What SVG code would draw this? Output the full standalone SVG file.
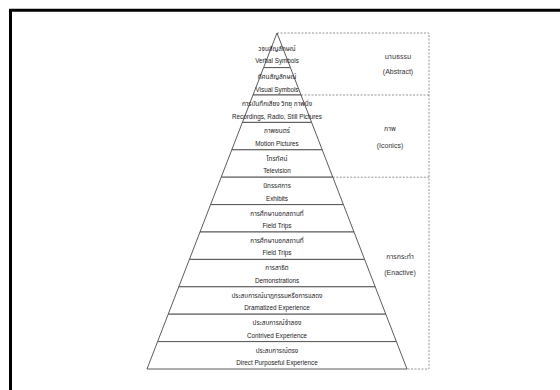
<svg xmlns="http://www.w3.org/2000/svg" width="560" height="390" viewBox="0 0 560 390">
<style>
.band{fill:#fff;stroke:#4a4a4a;stroke-width:0.9}
.th{font-family:"Noto Sans Thai","Tahoma","DejaVu Sans","Liberation Sans",sans-serif;font-size:6.4px;fill:#222;text-anchor:middle}
.en{font-family:"Liberation Sans",Arial,sans-serif;font-size:6.3px;fill:#222;text-anchor:middle}
.lth{font-family:"Noto Sans Thai","Tahoma","DejaVu Sans","Liberation Sans",sans-serif;font-size:7px;fill:#333;text-anchor:middle}
.len{font-family:"Liberation Sans",Arial,sans-serif;font-size:7px;fill:#333;text-anchor:middle}
.dash{fill:none;stroke:#888;stroke-width:0.9;stroke-dasharray:2 1.5}
</style>
<rect width="560" height="390" fill="#fff"/>
<path d="M10.5,390 V10.3 H560" fill="none" stroke="#000" stroke-width="3"/>
<g id="connectors">
<path class="dash" d="M277,33 H429 V369 H407"/>
<path class="dash" d="M301,95 H429"/>
<path class="dash" d="M332.8,177.2 H429"/>
</g>
<g id="verbal"><polygon class="band" points="277,33 290.4,67.6 263.6,67.6"/>
<text class="th" x="277" y="50.5">วจนสัญลักษณ์</text><text class="en" x="277" y="63.3">Verbal Symbols</text></g>
<g id="visual"><polygon class="band" points="263.6,67.6 290.4,67.6 301,95 253,95"/>
<text class="th" x="277" y="79">ทัศนสัญลักษณ์</text><text class="en" x="277" y="91.5">Visual Symbols</text></g>
<g id="recordings"><polygon class="band" points="253,95 301,95 311.6,122.4 242.4,122.4"/>
<text class="th" x="277" y="106">การบันทึกเสียง วิทยุ ภาพนิ่ง</text><text class="en" x="277" y="118.6">Recordings, Radio, Still Pictures</text></g>
<g id="motion"><polygon class="band" points="242.4,122.4 311.6,122.4 322.2,149.8 231.8,149.8"/>
<text class="th" x="277" y="133.4">ภาพยนตร์</text><text class="en" x="277" y="145.7">Motion Pictures</text></g>
<g id="television"><polygon class="band" points="231.8,149.8 322.2,149.8 332.8,177.2 221.2,177.2"/>
<text class="th" x="277" y="160.8">โทรทัศน์</text><text class="en" x="277" y="173.1">Television</text></g>
<g id="exhibits"><polygon class="band" points="221.2,177.2 332.8,177.2 343.4,204.6 210.6,204.6"/>
<text class="th" x="277" y="188.2">นิทรรศการ</text><text class="en" x="277" y="200.5">Exhibits</text></g>
<g id="fieldtrips1"><polygon class="band" points="210.6,204.6 343.4,204.6 354,232 200,232"/>
<text class="th" x="277" y="215.6">การศึกษานอกสถานที่</text><text class="en" x="277" y="227.9">Field Trips</text></g>
<g id="fieldtrips2"><polygon class="band" points="200,232 354,232 364.6,259.4 189.4,259.4"/>
<text class="th" x="277" y="243">การศึกษานอกสถานที่</text><text class="en" x="277" y="255.3">Field Trips</text></g>
<g id="demonstrations"><polygon class="band" points="189.4,259.4 364.6,259.4 375.2,286.8 178.8,286.8"/>
<text class="th" x="277" y="270.4">การสาธิต</text><text class="en" x="277" y="282.7">Demonstrations</text></g>
<g id="dramatized"><polygon class="band" points="178.8,286.8 375.2,286.8 385.8,314.2 168.2,314.2"/>
<text class="th" x="277" y="297.8">ประสบการณ์นาฏกรรมหรือการแสดง</text><text class="en" x="277" y="310.1">Dramatized Experience</text></g>
<g id="contrived"><polygon class="band" points="168.2,314.2 385.8,314.2 396.4,341.6 157.6,341.6"/>
<text class="th" x="277" y="325.2">ประสบการณ์จำลอง</text><text class="en" x="277" y="337.5">Contrived Experience</text></g>
<g id="direct"><polygon class="band" points="157.6,341.6 396.4,341.6 407,369 147,369"/>
<text class="th" x="277" y="352.6">ประสบการณ์ตรง</text><text class="en" x="277" y="364.9">Direct Purposeful Experience</text></g>
<g id="abstract"><text class="lth" x="398" y="59">นามธรรม</text><text class="len" x="398" y="73.5">(Abstract)</text></g>
<g id="iconics"><text class="lth" x="390" y="130.5">ภาพ</text><text class="len" x="390" y="147.5">(Iconics)</text></g>
<g id="enactive"><text class="lth" x="400" y="259">การกระทำ</text><text class="len" x="400" y="274.5">(Enactive)</text></g>
</svg>
